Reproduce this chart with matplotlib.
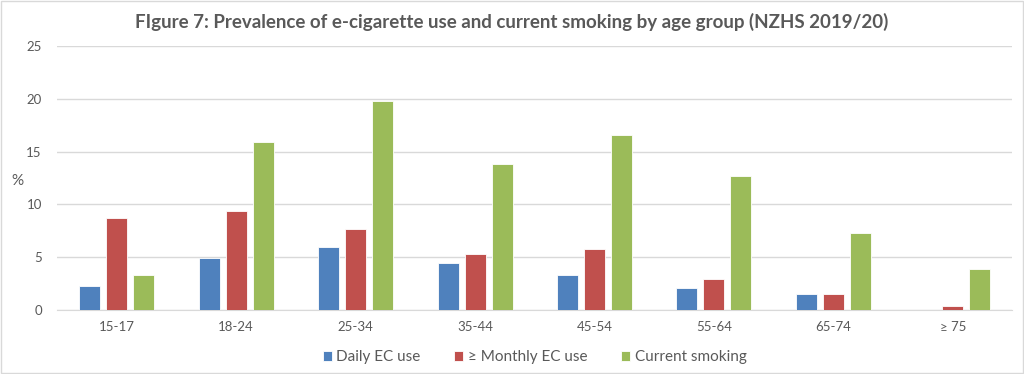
import numpy as np
import matplotlib.pyplot as plt
from matplotlib.patches import Rectangle

plt.rcParams['font.family'] = ['Lato', 'DejaVu Sans']

# Data
age_groups = ["15-17", "18-24", "25-34", "35-44", "45-54", "55-64", "65-74", "\u2265 75"]
daily_ec = [2.3, 4.9, 6.0, 4.5, 3.3, 2.05, 1.5, 0.0]
monthly_ec = [8.7, 9.35, 7.7, 5.3, 5.75, 2.9, 1.5, 0.35]
current_smoking = [3.3, 15.9, 19.75, 13.8, 16.6, 12.7, 7.3, 3.85]

series_names = ["Daily EC use", "\u2265 Monthly EC use", "Current smoking"]
colors = ["#4F81BD", "#C0504D", "#9BBB59"]
text_color = "#595959"

fig = plt.figure(figsize=(10.24, 3.74), dpi=100)
ax = fig.add_axes([0.0557, 0.171, 0.933, 0.706])

x = np.arange(len(age_groups))
width = 0.176
step = 0.226
for i, (vals, name, c) in enumerate(zip([daily_ec, monthly_ec, current_smoking], series_names, colors)):
    ax.bar(x + (i - 1) * step, vals, width, color=c, label=name,
           edgecolor="white", linewidth=0.6, zorder=3)

ax.set_xlim(-0.5, len(age_groups) - 0.5)
ax.set_ylim(0, 25)
ax.set_yticks(range(0, 26, 5))
ax.set_xticks(x)
ax.set_xticklabels(age_groups)
ax.yaxis.grid(True, color="#d9d9d9", linewidth=1, zorder=0)
ax.tick_params(axis="both", length=0, labelsize=9.5, colors=text_color, pad=8)
ax.tick_params(axis="y", pad=11)
for s in ["top", "right", "left"]:
    ax.spines[s].set_visible(False)
ax.spines["bottom"].set_color("#d9d9d9")

ax.set_ylabel("%", rotation=0, fontsize=11, color=text_color, ha="center", va="center")
ax.yaxis.set_label_coords(-0.041, 0.49)

fig.suptitle("FIgure 7: Prevalence of e-cigarette use and current smoking by age group (NZHS 2019/20)",
             x=0.5, y=0.965, fontsize=13.5, fontweight="bold", color=text_color)

leg = ax.legend(loc="upper center", bbox_to_anchor=(0.5, -0.1), ncol=3, frameon=False,
                fontsize=11, handlelength=0.6, handleheight=0.6, handletextpad=0.3,
                columnspacing=2.2)
for t in leg.get_texts():
    t.set_color(text_color)

fig.patches.append(Rectangle((0.001, 0.003), 0.998, 0.994, transform=fig.transFigure,
                             fill=False, edgecolor="#d9d9d9", linewidth=1))

fig.savefig("out.png", dpi=100, facecolor="white")
